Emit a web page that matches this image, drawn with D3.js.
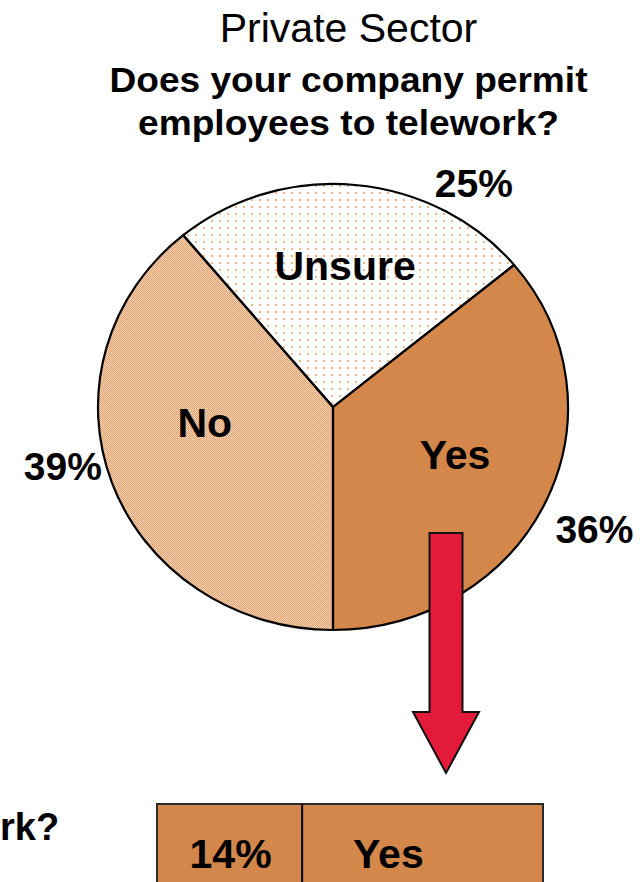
<!DOCTYPE html>
<html>
<head>
<meta charset="utf-8">
<script src="https://cdn.jsdelivr.net/npm/d3@7"></script>
<style>
  html, body { margin: 0; padding: 0; background: #ffffff; overflow: hidden; }
  svg { display: block; }
  text { font-family: "Liberation Sans", Arial, Helvetica, sans-serif; fill: #000; }
</style>
</head>
<body>
<svg id="chart" width="641" height="882"></svg>
<script>
// Survey answers: "Does your company permit employees to telework?"
const categories = ["Yes", "No", "Unsure"];
const shares = [36, 39, 25];
const shareLabels = ["36%", "39%", "25%"];

// Follow-up bar fragment shown under the arrow
const followUpShare = [14];
const followUpLabels = ["14%", "Yes"];

const svg = d3.select("#chart");
const defs = svg.append("defs");

// ---- fill patterns -------------------------------------------------------
const orange = "#D4874A";

// fine checker for "No"
const checker = defs.append("pattern")
  .attr("id", "checker").attr("patternUnits", "userSpaceOnUse")
  .attr("width", 2).attr("height", 2);
checker.append("rect").attr("width", 2).attr("height", 2).attr("fill", "#F4D6BE");
checker.append("rect").attr("width", 1).attr("height", 1).attr("fill", "#E19E66");
checker.append("rect").attr("x", 1).attr("y", 1).attr("width", 1).attr("height", 1).attr("fill", "#E19E66");

// sparse dots for "Unsure"
const dots = defs.append("pattern")
  .attr("id", "dots").attr("patternUnits", "userSpaceOnUse")
  .attr("width", 8).attr("height", 7);
dots.append("rect").attr("width", 8).attr("height", 7).attr("fill", "#ffffff");
dots.append("rect").attr("x", 3).attr("y", 3).attr("width", 2).attr("height", 2).attr("fill", "#F3C7A3");
dots.append("rect").attr("x", 3.5).attr("y", 3.5).attr("width", 1).attr("height", 1).attr("fill", "#E08A4E");

const fills = d3.scaleOrdinal()
  .domain(categories)
  .range([orange, "url(#checker)", "url(#dots)"]);

// ---- titles --------------------------------------------------------------
svg.append("text")
  .attr("x", 348.5).attr("y", 42)
  .attr("text-anchor", "middle")
  .style("font-size", "41px")
  .text("Private Sector");

const titleLines = ["Does your company permit", "employees to telework?"];
svg.selectAll("text.title")
  .data(titleLines)
  .join("text")
  .attr("class", "title")
  .attr("x", 348.5)
  .attr("y", (d, i) => 92 + i * 43)
  .attr("text-anchor", "middle")
  .style("font-size", "35px")
  .style("font-weight", "bold")
  .attr("textLength", (d, i) => i === 0 ? 478 : 421)
  .attr("lengthAdjust", "spacingAndGlyphs")
  .text(d => d);

// ---- pie -----------------------------------------------------------------
const cx = 333, cy = 407, R = 235, ry = 223;
const squash = ry / R;
const startDeg = 50.4;

const pie = d3.pie()
  .sort(null)
  .value(d => d)
  .startAngle(startDeg * Math.PI / 180)
  .endAngle((startDeg + 360) * Math.PI / 180);

const arcs = pie(shares).map((a, i) => Object.assign(a, { cat: categories[i], label: shareLabels[i] }));
const arc = d3.arc().innerRadius(0).outerRadius(R);
const pieTransform = `translate(${cx},${cy}) scale(1,${squash})`;

// each slice shape is a clip; the fill is painted unsquashed so textures stay crisp
defs.selectAll("clipPath.sliceClip")
  .data(arcs)
  .join("clipPath")
  .attr("class", "sliceClip")
  .attr("id", (d, i) => "slice-" + i)
  .append("path")
  .attr("transform", pieTransform)
  .attr("d", arc);

svg.append("g").selectAll("rect.sliceFill")
  .data(arcs)
  .join("rect")
  .attr("class", "sliceFill")
  .attr("x", cx - R - 2).attr("y", cy - ry - 2)
  .attr("width", 2 * R + 4).attr("height", 2 * ry + 4)
  .attr("clip-path", (d, i) => `url(#slice-${i})`)
  .attr("fill", d => fills(d.cat));

svg.append("g")
  .attr("transform", pieTransform)
  .selectAll("path.slice")
  .data(arcs)
  .join("path")
  .attr("class", "slice")
  .attr("d", arc)
  .attr("fill", "none")
  .attr("stroke", "#000")
  .attr("stroke-width", 2.2)
  .attr("stroke-linejoin", "round")
  .attr("vector-effect", "non-scaling-stroke");

// label placement in polar terms: angle (deg, clockwise from 12 o'clock), radius as share of R
const namePolar = { Yes: [112, 0.56], No: [263, 0.55], Unsure: [4.6, 0.64] };
const valuePolar = { Yes: [116.2, 1.24], No: [257, 1.18], Unsure: [30.8, 1.17] };

function polar([deg, f]) {
  const a = deg * Math.PI / 180;
  return [cx + f * R * Math.sin(a), cy - f * R * Math.cos(a) * squash];
}

svg.selectAll("text.name")
  .data(arcs)
  .join("text")
  .attr("class", "name")
  .attr("x", d => polar(namePolar[d.cat])[0])
  .attr("y", d => polar(namePolar[d.cat])[1] + 15)
  .attr("text-anchor", "middle")
  .style("font-size", "41px")
  .style("font-weight", "bold")
  .text(d => d.cat);

svg.selectAll("text.value")
  .data(arcs)
  .join("text")
  .attr("class", "value")
  .attr("x", d => polar(valuePolar[d.cat])[0])
  .attr("y", d => polar(valuePolar[d.cat])[1] + 14)
  .attr("text-anchor", "middle")
  .style("font-size", "39px")
  .style("font-weight", "bold")
  .text(d => d.label);

// ---- arrow from the "Yes" slice down to the follow-up bar ----------------
const arrowX = 446, shaftW = 33, headW = 66, shaftTop = 533, headTop = 712, tipY = 773;
const arrowPath = d3.path();
arrowPath.moveTo(arrowX - shaftW / 2, shaftTop);
arrowPath.lineTo(arrowX + shaftW / 2, shaftTop);
arrowPath.lineTo(arrowX + shaftW / 2, headTop);
arrowPath.lineTo(arrowX + headW / 2, headTop);
arrowPath.lineTo(arrowX, tipY);
arrowPath.lineTo(arrowX - headW / 2, headTop);
arrowPath.lineTo(arrowX - shaftW / 2, headTop);
arrowPath.closePath();
svg.append("path")
  .attr("d", arrowPath.toString())
  .attr("fill", "#E31A3A")
  .attr("stroke", "#111")
  .attr("stroke-width", 2)
  .attr("stroke-linejoin", "miter");

// ---- follow-up bar fragment ----------------------------------------------
const barTop = 804;
const cellX = d3.scaleLinear().domain([0, 1]).range([157, 543]);
const split = 0.376;

svg.append("rect")
  .attr("x", cellX(0)).attr("y", barTop)
  .attr("width", cellX(1) - cellX(0)).attr("height", 120)
  .attr("fill", orange).attr("stroke", "#2a2a2a").attr("stroke-width", 2);
svg.append("line")
  .attr("x1", cellX(split)).attr("x2", cellX(split))
  .attr("y1", barTop).attr("y2", 882)
  .attr("stroke", "#000").attr("stroke-width", 2);

svg.append("text")
  .attr("x", (cellX(0) + cellX(split)) / 2 + 1).attr("y", 868)
  .attr("text-anchor", "middle")
  .style("font-size", "41px").style("font-weight", "bold")
  .text(followUpShare[0] + "%");
svg.append("text")
  .attr("x", 353).attr("y", 868)
  .style("font-size", "41px").style("font-weight", "bold")
  .text(followUpLabels[1]);

// tail of the neighbouring question
svg.append("text")
  .attr("x", 0).attr("y", 840)
  .style("font-size", "38px").style("font-weight", "bold")
  .text("rk?");
</script>
</body>
</html>
